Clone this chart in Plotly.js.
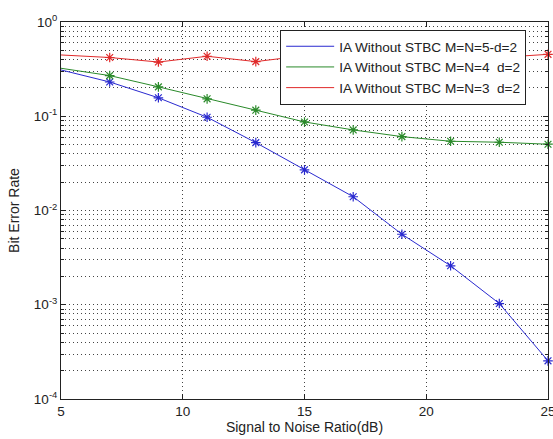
<!DOCTYPE html>
<html>
<head>
<meta charset="utf-8">
<script src="https://cdn.plot.ly/plotly-3.0.1.min.js"></script>
<style>html,body{margin:0;padding:0;background:#fff;}#chart{width:553px;height:439px;}</style>
</head>
<body>
<div id="chart"></div>
<script>
// SNR values (dB)
const snr = [5, 7, 9, 11, 13, 15, 17, 19, 21, 23, 25];
// Bit error rates
const berM5 = [0.31, 0.231, 0.157, 0.0976, 0.0525, 0.027, 0.014, 0.0056, 0.00259, 0.00103, 0.000254];
const berM4 = [0.323, 0.27, 0.205, 0.153, 0.116, 0.087, 0.0716, 0.0608, 0.0543, 0.053, 0.0505];
const berM3 = [0.447, 0.42, 0.376, 0.433, 0.38, 0.44, 0.41, 0.43, 0.41, 0.42, 0.454];
const seriesNames = ['IA Without STBC M=N=5-d=2', 'IA Without STBC M=N=4  d=2', 'IA Without STBC M=N=3  d=2'];
const seriesColors = ['#2a2ad0', '#2a8a2a', '#e02a2a'];
const yTickVals = [1e-4, 1e-3, 1e-2, 1e-1, 1];
const yTickText = ['10<sup>-4</sup>', '10<sup>-3</sup>', '10<sup>-2</sup>', '10<sup>-1</sup>', '10<sup>0</sup>'];
const xTickVals = [5, 10, 15, 20, 25];

const minorVals = [];
for (let e = -4; e < 0; e++) {
  for (let m = 2; m <= 9; m++) minorVals.push(m * Math.pow(10, e));
}

const allSeries = [berM5, berM4, berM3];
const traces = [];
allSeries.forEach((ys, i) => {
  traces.push({
    x: snr, y: ys, type: 'scatter', mode: 'lines', name: seriesNames[i],
    line: {color: seriesColors[i], width: 1}
  });
});
allSeries.forEach((ys, i) => {
  traces.push({
    x: snr.slice(1), y: ys.slice(1), type: 'scatter', mode: 'markers', showlegend: false,
    marker: {symbol: 'asterisk-open', size: 8, color: seriesColors[i], line: {color: seriesColors[i], width: 1.2}},
    cliponaxis: false
  });
});

const gridDash = '1px,3px';
const layout = {
  width: 553, height: 439,
  margin: {l: 61, r: 5, t: 22, b: 40},
  paper_bgcolor: '#fff', plot_bgcolor: '#fff',
  font: {family: 'Liberation Sans, Arial, sans-serif', size: 12, color: '#222'},
  showlegend: true,
  legend: {
    x: 0.45, y: 0.979, xanchor: 'left', yanchor: 'top',
    bgcolor: '#fff', bordercolor: '#222', borderwidth: 1,
    font: {size: 13.6, color: '#222'},
    itemwidth: 48
  },
  xaxis: {
    type: 'linear', range: [5, 25], tickmode: 'array', tickvals: xTickVals,
    ticks: 'inside', ticklen: 5, tickcolor: '#222', mirror: 'ticks',
    showline: true, linecolor: '#222', linewidth: 1,
    showgrid: true, gridcolor: '#444', griddash: gridDash, gridwidth: 1,
    zeroline: false, fixedrange: true, ticklabeloverflow: 'allow',
    tickfont: {size: 13.5},
    title: {text: 'Signal to Noise Ratio(dB)', font: {size: 14}, standoff: 2}
  },
  yaxis: {
    type: 'log', range: [-4, 0], tickmode: 'array', tickvals: yTickVals, ticktext: yTickText,
    ticks: 'inside', ticklen: 5, tickcolor: '#222', mirror: 'ticks',
    showline: true, linecolor: '#222', linewidth: 1,
    showgrid: true, gridcolor: '#444', griddash: gridDash, gridwidth: 1,
    zeroline: false, fixedrange: true,
    tickfont: {size: 13.5},
    minor: {tickmode: 'array', tickvals: minorVals, ticks: 'inside', ticklen: 3, tickcolor: '#222',
            showgrid: true, gridcolor: '#444', griddash: gridDash, gridwidth: 1},
    title: {text: 'Bit Error Rate', font: {size: 14}, standoff: 10}
  }
};

Plotly.newPlot('chart', traces, layout, {staticPlot: true, displayModeBar: false});
</script>
</body>
</html>
